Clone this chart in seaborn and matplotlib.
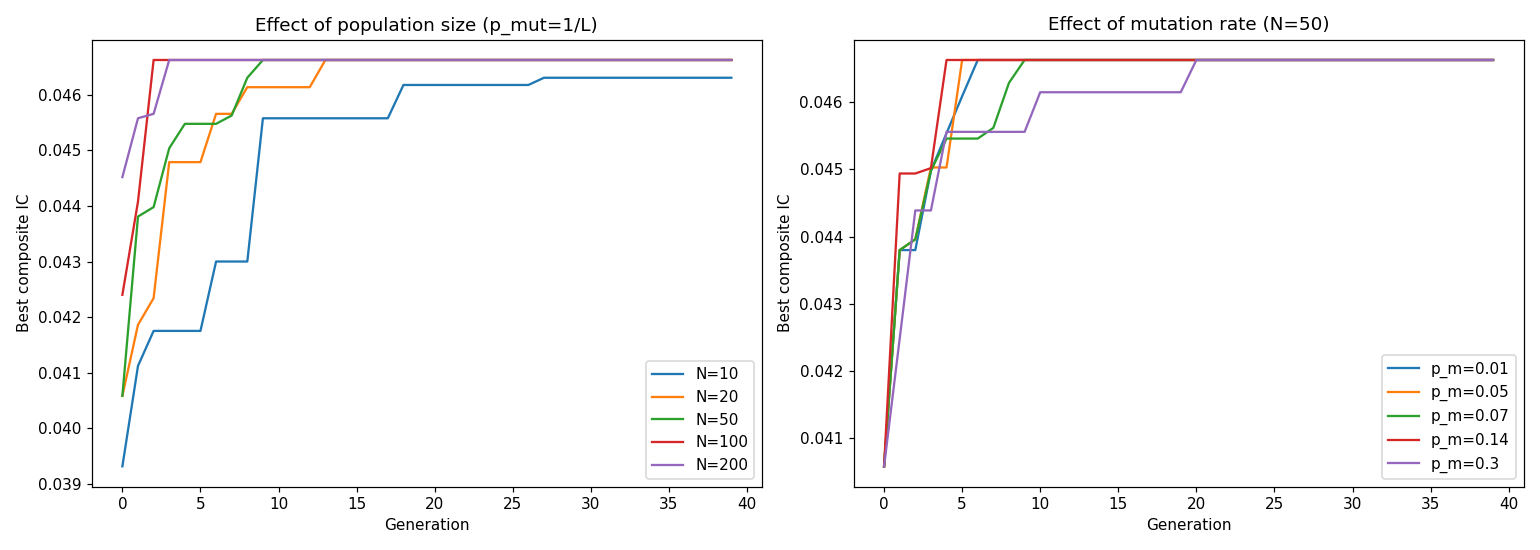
import pandas as pd
import matplotlib.pyplot as plt
import seaborn as sns

# generations 0..39
generations = list(range(40))

# left panel: population size (p_mut = 1/L)
pop_labels = ['N=10', 'N=20', 'N=50', 'N=100', 'N=200']
n10 = [0.03931, 0.04112, 0.04175, 0.04175, 0.04175, 0.04175, 0.04300, 0.04300, 0.04300, 0.04558,
       0.04558, 0.04558, 0.04558, 0.04558, 0.04558, 0.04558, 0.04558, 0.04558, 0.04618, 0.04618,
       0.04618, 0.04618, 0.04618, 0.04618, 0.04618, 0.04618, 0.04618, 0.04631, 0.04631, 0.04631,
       0.04631, 0.04631, 0.04631, 0.04631, 0.04631, 0.04631, 0.04631, 0.04631, 0.04631, 0.04631]
n20 = [0.04058, 0.04186, 0.04234, 0.04479, 0.04479, 0.04479, 0.04566, 0.04566, 0.04614, 0.04614,
       0.04614, 0.04614, 0.04614, 0.04663, 0.04663, 0.04663, 0.04663, 0.04663, 0.04663, 0.04663,
       0.04663, 0.04663, 0.04663, 0.04663, 0.04663, 0.04663, 0.04663, 0.04663, 0.04663, 0.04663,
       0.04663, 0.04663, 0.04663, 0.04663, 0.04663, 0.04663, 0.04663, 0.04663, 0.04663, 0.04663]
n50 = [0.04058, 0.04381, 0.04398, 0.04504, 0.04548, 0.04548, 0.04548, 0.04563, 0.04631, 0.04663,
       0.04663, 0.04663, 0.04663, 0.04663, 0.04663, 0.04663, 0.04663, 0.04663, 0.04663, 0.04663,
       0.04663, 0.04663, 0.04663, 0.04663, 0.04663, 0.04663, 0.04663, 0.04663, 0.04663, 0.04663,
       0.04663, 0.04663, 0.04663, 0.04663, 0.04663, 0.04663, 0.04663, 0.04663, 0.04663, 0.04663]
n100 = [0.04240, 0.04408, 0.04663, 0.04663, 0.04663, 0.04663, 0.04663, 0.04663, 0.04663, 0.04663,
        0.04663, 0.04663, 0.04663, 0.04663, 0.04663, 0.04663, 0.04663, 0.04663, 0.04663, 0.04663,
        0.04663, 0.04663, 0.04663, 0.04663, 0.04663, 0.04663, 0.04663, 0.04663, 0.04663, 0.04663,
        0.04663, 0.04663, 0.04663, 0.04663, 0.04663, 0.04663, 0.04663, 0.04663, 0.04663, 0.04663]
n200 = [0.04452, 0.04558, 0.04566, 0.04663, 0.04663, 0.04663, 0.04663, 0.04663, 0.04663, 0.04663,
        0.04663, 0.04663, 0.04663, 0.04663, 0.04663, 0.04663, 0.04663, 0.04663, 0.04663, 0.04663,
        0.04663, 0.04663, 0.04663, 0.04663, 0.04663, 0.04663, 0.04663, 0.04663, 0.04663, 0.04663,
        0.04663, 0.04663, 0.04663, 0.04663, 0.04663, 0.04663, 0.04663, 0.04663, 0.04663, 0.04663]

# right panel: mutation rate (N = 50)
mut_labels = ['p_m=0.01', 'p_m=0.05', 'p_m=0.07', 'p_m=0.14', 'p_m=0.3']
pm001 = [0.04058, 0.04380, 0.04380, 0.04498, 0.04554, 0.04609, 0.04663, 0.04663, 0.04663, 0.04663,
         0.04663, 0.04663, 0.04663, 0.04663, 0.04663, 0.04663, 0.04663, 0.04663, 0.04663, 0.04663,
         0.04663, 0.04663, 0.04663, 0.04663, 0.04663, 0.04663, 0.04663, 0.04663, 0.04663, 0.04663,
         0.04663, 0.04663, 0.04663, 0.04663, 0.04663, 0.04663, 0.04663, 0.04663, 0.04663, 0.04663]
pm005 = [0.04058, 0.04380, 0.04396, 0.04503, 0.04503, 0.04663, 0.04663, 0.04663, 0.04663, 0.04663,
         0.04663, 0.04663, 0.04663, 0.04663, 0.04663, 0.04663, 0.04663, 0.04663, 0.04663, 0.04663,
         0.04663, 0.04663, 0.04663, 0.04663, 0.04663, 0.04663, 0.04663, 0.04663, 0.04663, 0.04663,
         0.04663, 0.04663, 0.04663, 0.04663, 0.04663, 0.04663, 0.04663, 0.04663, 0.04663, 0.04663]
pm007 = [0.04058, 0.04380, 0.04396, 0.04498, 0.04546, 0.04546, 0.04546, 0.04562, 0.04629, 0.04663,
         0.04663, 0.04663, 0.04663, 0.04663, 0.04663, 0.04663, 0.04663, 0.04663, 0.04663, 0.04663,
         0.04663, 0.04663, 0.04663, 0.04663, 0.04663, 0.04663, 0.04663, 0.04663, 0.04663, 0.04663,
         0.04663, 0.04663, 0.04663, 0.04663, 0.04663, 0.04663, 0.04663, 0.04663, 0.04663, 0.04663]
pm014 = [0.04058, 0.04494, 0.04494, 0.04502, 0.04663, 0.04663, 0.04663, 0.04663, 0.04663, 0.04663,
         0.04663, 0.04663, 0.04663, 0.04663, 0.04663, 0.04663, 0.04663, 0.04663, 0.04663, 0.04663,
         0.04663, 0.04663, 0.04663, 0.04663, 0.04663, 0.04663, 0.04663, 0.04663, 0.04663, 0.04663,
         0.04663, 0.04663, 0.04663, 0.04663, 0.04663, 0.04663, 0.04663, 0.04663, 0.04663, 0.04663]
pm03 = [0.04058, 0.04248, 0.04439, 0.04439, 0.04556, 0.04556, 0.04556, 0.04556, 0.04556, 0.04556,
        0.04615, 0.04615, 0.04615, 0.04615, 0.04615, 0.04615, 0.04615, 0.04615, 0.04615, 0.04615,
        0.04663, 0.04663, 0.04663, 0.04663, 0.04663, 0.04663, 0.04663, 0.04663, 0.04663, 0.04663,
        0.04663, 0.04663, 0.04663, 0.04663, 0.04663, 0.04663, 0.04663, 0.04663, 0.04663, 0.04663]


def long_frame(labels, series):
    rows = []
    for lab, vals in zip(labels, series):
        for g, v in zip(generations, vals):
            rows.append({'Generation': g, 'ic': v, 'run': lab})
    return pd.DataFrame(rows)


df_pop = long_frame(pop_labels, [n10, n20, n50, n100, n200])
df_mut = long_frame(mut_labels, [pm001, pm005, pm007, pm014, pm03])

fig, axes = plt.subplots(1, 2, figsize=(14, 5), dpi=110)

panels = [
    (axes[0], df_pop, pop_labels, 'Effect of population size (p_mut=1/L)'),
    (axes[1], df_mut, mut_labels, 'Effect of mutation rate (N=50)'),
]
for ax, df, labels, title in panels:
    sns.lineplot(data=df, x='Generation', y='ic', hue='run', hue_order=labels,
                 palette='tab10', errorbar=None, linewidth=1.5, ax=ax)
    ax.set_title(title, fontsize=12)
    ax.set_xlabel('Generation')
    ax.set_ylabel('Best composite IC')
    handles, labs = ax.get_legend_handles_labels()
    ax.legend(handles, labs, loc='lower right')

plt.tight_layout()
plt.savefig('out.png')
